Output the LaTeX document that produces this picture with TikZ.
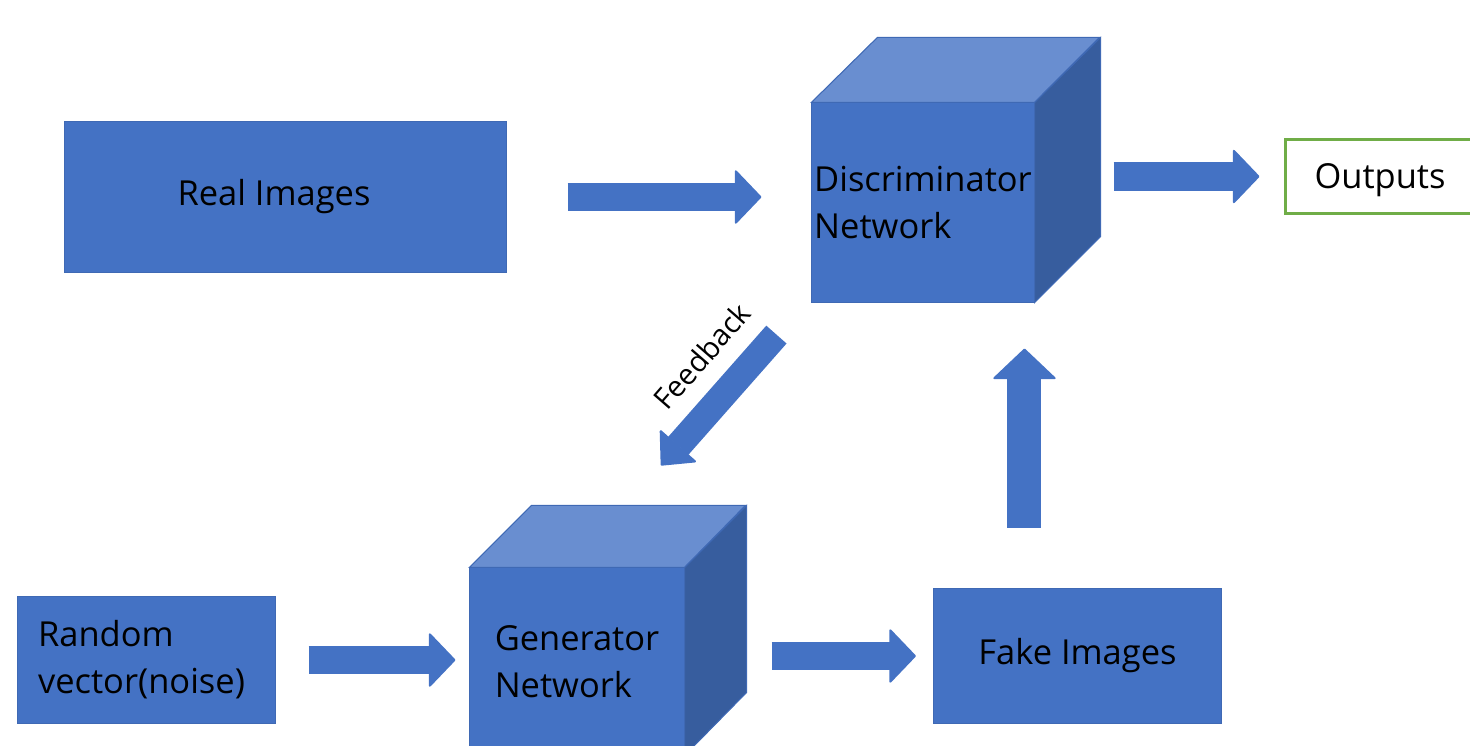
\documentclass[tikz,border=0pt]{standalone}
\usepackage{fontspec}
\setmainfont{Open Sans}
\usetikzlibrary{arrows.meta}

\definecolor{boxblue}{HTML}{4472C4}
\definecolor{topblue}{HTML}{698ED0}
\definecolor{sideblue}{HTML}{375D9E}
\definecolor{outgreen}{HTML}{70AD47}

\tikzset{
  bluebox/.style={fill=boxblue, draw=boxblue!92!black, line width=0.3pt,
    align=left, font=\fontsize{9.8}{13.4}\selectfont, inner sep=0pt},
  cubetop/.style={fill=topblue, draw=boxblue!92!black, line width=0.3pt},
  cubeside/.style={fill=sideblue, draw=boxblue!92!black, line width=0.3pt},
  blockarrow/.style={draw=boxblue, line width=0.28cm,
    -{Triangle[width=0.56cm, length=0.27cm, line width=0.6pt, round]}},
  bigarrow/.style={draw=boxblue, line width=0.34cm,
    -{Triangle[width=0.65cm, length=0.31cm, line width=0.6pt, round]}},
  fbarrow/.style={draw=boxblue, line width=0.27cm,
    -{Triangle[width=0.50cm, length=0.27cm, line width=0.6pt, round]}},
  fbtext/.style={font=\fontsize{8.3}{10}\selectfont, inner sep=0pt}
}

\begin{document}
\begin{tikzpicture}[x=0.01cm, y=-0.01cm]
  \useasboundingbox (0,0) rectangle (1470,746);

  % Real images
  \node[bluebox, minimum width=4.41cm, minimum height=1.50cm] (real) at (285.5,197) {Real Images\rule{0.23cm}{0pt}};

  % Discriminator cube
  \node[bluebox, minimum width=2.22cm, minimum height=1.99cm] (disc) at (923,202.5) {Discriminator\\Network};
  \draw[cubetop] (disc.north west) -- ++(66,-65) -- ++(222,0) -- (disc.north east) -- cycle;
  \draw[cubeside] (disc.north east) -- ++(66,-65) -- ++(0,199) -- (disc.south east) -- cycle;

  % Outputs
  \node[draw=outgreen, line width=0.03cm, minimum width=1.88cm, minimum height=0.73cm,
    font=\fontsize{9.8}{13.4}\selectfont, inner sep=0pt, text depth=0pt] (out) at (1380,176.5) {Outputs};

  % Random vector
  \node[bluebox, minimum width=2.57cm, minimum height=1.27cm] (rand) at (146.5,660) {Random\\vector(noise)\rule{0.1cm}{0pt}};

  % Generator cube
  \node[bluebox, minimum width=2.14cm, minimum height=1.87cm] (gen) at (577,661.5) {Generator\\Network};
  \draw[cubetop] (gen.north west) -- ++(62,-62) -- ++(214,0) -- (gen.north east) -- cycle;
  \draw[cubeside] (gen.north east) -- ++(62,-62) -- ++(0,187) -- (gen.south east) -- cycle;

  % Fake images
  \node[bluebox, minimum width=2.88cm, minimum height=1.35cm] (fake) at (1077.5,656) {Fake Images};

  % Arrows
  \draw[blockarrow, shorten <=0.61cm, shorten >=0.50cm] (real.east) -- (real.east -| disc.west);
  \draw[blockarrow, shorten <=0.79cm, shorten >=0.25cm] (out.west -| disc.east) -- (out.west);
  \draw[blockarrow, shorten <=0.33cm, shorten >=0.14cm] (rand.east) -- (rand.east -| gen.west);
  \draw[blockarrow, shorten <=0.87cm, shorten >=0.17cm] (fake.west -| gen.east) -- (fake.west);

  \coordinate (upstart) at ([xshift=-0.53cm]fake.north);
  \draw[bigarrow, shorten <=0.60cm, shorten >=0.46cm] (upstart) -- (upstart |- disc.south);

  % Feedback
  \coordinate (fbtail) at ([shift={(-35,32)}]disc.south west);
  \coordinate (fbtip) at ([shift={(84,-102)}]gen.north);
  \draw[fbarrow] (fbtail) -- (fbtip);
  \node[fbtext, rotate=49] (fblabel) at (702,356) {Feedback};
\end{tikzpicture}
\end{document}
